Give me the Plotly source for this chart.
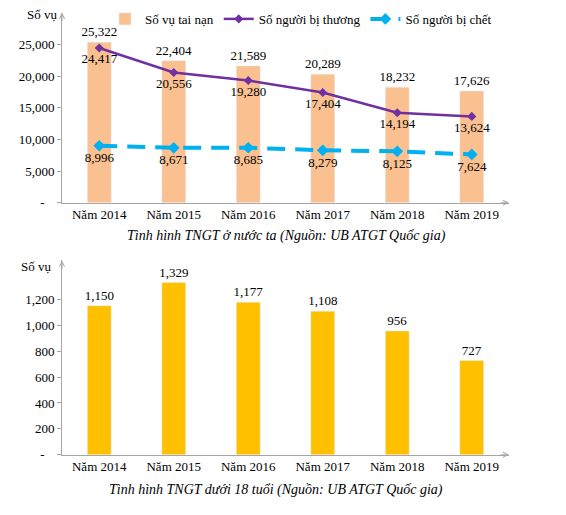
import plotly.graph_objects as go

# data
years = ["Năm 2014", "Năm 2015", "Năm 2016", "Năm 2017", "Năm 2018", "Năm 2019"]
accidents = [25322, 22404, 21589, 20289, 18232, 17626]
injured = [24417, 20556, 19280, 17404, 14194, 13624]
deaths = [8996, 8671, 8685, 8279, 8125, 7624]
under18 = [1150, 1329, 1177, 1108, 956, 727]

top_ticks = [0, 5000, 10000, 15000, 20000, 25000]
bottom_ticks = [0, 200, 400, 600, 800, 1000, 1200]

FONT = "Liberation Serif, Times New Roman, serif"
AXIS_GREY = "#A6A6A6"
label_font = dict(family=FONT, size=13, color="black")


def tick_text(vals):
    return ["-\u00a0\u00a0\u00a0" if v == 0 else f"{v:,}" for v in vals]


fig = go.Figure()

fig.add_trace(go.Bar(
    x=years, y=accidents, name="Số vụ tai nạn",
    marker_color="#FAC090", width=0.32,
    text=[f"{v:,}" for v in accidents], textposition="outside",
    outsidetextfont=label_font, constraintext="none",
    cliponaxis=False, xaxis="x", yaxis="y",
))
fig.add_trace(go.Scatter(
    x=years, y=injured, name="Số người bị thương",
    mode="lines+markers+text",
    line=dict(color="#7030A0", width=2.5),
    marker=dict(symbol="diamond", size=7, color="#7030A0"),
    text=[f"{v:,}" for v in injured], textposition="bottom center",
    textfont=label_font,
    cliponaxis=False, xaxis="x", yaxis="y",
))
fig.add_trace(go.Scatter(
    x=years, y=deaths, name="Số người bị chết",
    mode="lines+markers+text",
    line=dict(color="#00B0F0", width=4, dash="18px,10px"),
    marker=dict(symbol="diamond", size=9, color="#00B0F0"),
    text=[f"{v:,}" for v in deaths], textposition="bottom center",
    textfont=label_font,
    cliponaxis=False, xaxis="x", yaxis="y",
))
fig.add_trace(go.Bar(
    x=years, y=under18, name="Dưới 18 tuổi", showlegend=False,
    marker_color="#FFC000", width=0.32,
    text=[f"{v:,}" for v in under18], textposition="outside",
    outsidetextfont=label_font, constraintext="none",
    cliponaxis=False, xaxis="x2", yaxis="y2",
))

xdom = [62 / 566, 509 / 566]
common_x = dict(
    showgrid=False, zeroline=False, showline=True, linecolor=AXIS_GREY,
    linewidth=1, ticks="", tickfont=dict(family=FONT, size=13, color="black"),
)
common_y = dict(
    showgrid=False, zeroline=False, showline=True, linecolor=AXIS_GREY,
    linewidth=1, ticks="outside", ticklen=4, tickcolor=AXIS_GREY,
    tickfont=dict(family=FONT, size=13, color="black"),
)

fig.update_layout(
    width=566, height=515,
    margin=dict(l=0, r=0, t=0, b=0),
    paper_bgcolor="white", plot_bgcolor="white",
    font=dict(family=FONT, size=13, color="black"),
    xaxis=dict(domain=xdom, anchor="y", **common_x),
    yaxis=dict(domain=[1 - 206 / 515, 1 - 12.8 / 515], anchor="x",
               range=[0, 30000], tickvals=top_ticks,
               ticktext=tick_text(top_ticks), **common_y),
    xaxis2=dict(domain=xdom, anchor="y2", **common_x),
    yaxis2=dict(domain=[1 - 462 / 515, 1 - 264.5 / 515], anchor="x2",
                range=[0, 1500], tickvals=bottom_ticks,
                ticktext=tick_text(bottom_ticks), **common_y),
    legend=dict(orientation="h", x=105 / 566, y=1 - 4 / 515,
                xanchor="left", yanchor="top",
                font=dict(family=FONT, size=13, color="black"),
                bgcolor="rgba(0,0,0,0)", itemwidth=30),
)

annotations = [
    dict(text="Số vụ", x=25 / 566, y=1 - 15 / 515, xref="paper", yref="paper",
         showarrow=False, xanchor="left", yanchor="middle",
         font=dict(family=FONT, size=13)),
    dict(text="Số vụ", x=19 / 566, y=1 - 271 / 515, xref="paper", yref="paper",
         showarrow=False, xanchor="left", yanchor="middle",
         font=dict(family=FONT, size=13)),
    dict(text="<i>Tình hình TNGT ở nước ta (Nguồn: UB ATGT Quốc gia)</i>",
         x=286 / 566, y=1 - 240 / 515, xref="paper", yref="paper",
         showarrow=False, yanchor="middle", font=dict(family=FONT, size=14)),
    dict(text="<i>Tình hình TNGT dưới 18 tuổi (Nguồn: UB ATGT Quốc gia)</i>",
         x=276 / 566, y=1 - 498 / 515, xref="paper", yref="paper",
         showarrow=False, yanchor="middle", font=dict(family=FONT, size=14)),
]
# axis arrowheads
for xr, yr in [("x", "y"), ("x2", "y2")]:
    annotations.append(dict(x=1, y=0, xref=f"{xr} domain", yref=f"{yr} domain",
                            ax=-10, ay=0, text="", showarrow=True, arrowhead=5,
                            arrowsize=1, arrowwidth=1, arrowcolor=AXIS_GREY))
    annotations.append(dict(x=0, y=1, xref=f"{xr} domain", yref=f"{yr} domain",
                            ax=0, ay=10, text="", showarrow=True, arrowhead=5,
                            arrowsize=1, arrowwidth=1, arrowcolor=AXIS_GREY))
fig.update_layout(annotations=annotations)

# page body has a default 8px margin; drop it so the figure fills the window
fig.write_html("out.html", config={"displayModeBar": False},
               post_script="document.body.style.margin='0';")
